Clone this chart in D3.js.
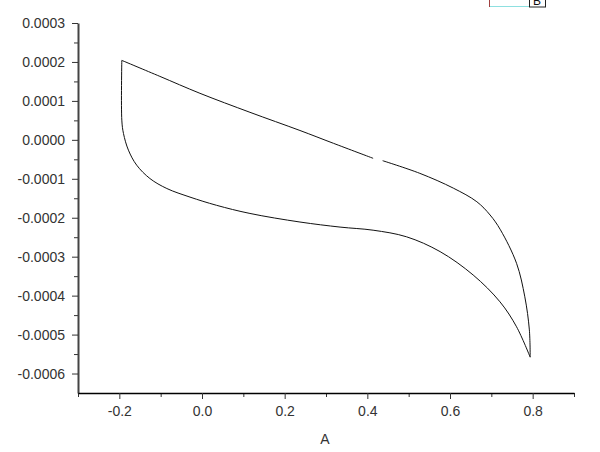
<!DOCTYPE html>
<html>
<head>
<meta charset="utf-8">
<script src="https://cdn.jsdelivr.net/npm/d3@7"></script>
<style>
  body { margin: 0; background: #fff; }
  svg { display: block; font-family: "Liberation Sans", Arial, sans-serif; }
</style>
</head>
<body>
<div id="chart"></div>
<script>
// loop: upper branch left->right, then lower branch right->left
// null marks a break: the little gap in the upper branch, and the sharp bottom-right corner
const potential = [-0.194, -0.102, -0.005, 0.116, 0.237, 0.318, 0.414, null, 0.437, 0.527, 0.608, 0.665, 0.697, 0.722, 0.761, 0.781, 0.792, 0.794, null,
  0.794, 0.761, 0.721, 0.656, 0.576, 0.495, 0.414, 0.334, 0.237, 0.116, 0.035, -0.029, -0.085, -0.126, -0.158, -0.178, -0.190, -0.194, -0.194];
const current = [0.000204, 0.000163, 0.0001195, 0.0000707, 0.000024, -0.0000089, -0.0000474, null, -0.0000535, -0.000086, -0.000124, -0.000159, -0.000193, -0.000231, -0.000317, -0.000403, -0.000488, -0.000558, null,
  -0.000558, -0.00048, -0.000416, -0.000347, -0.000287, -0.000249, -0.000232, -0.000224, -0.000211, -0.000189, -0.000168, -0.000147, -0.000125, -0.0000993, -0.000065, -0.0000265, 0.0000165, 0.0000506, 0.000204];

const xTicks = [-0.2, 0.0, 0.2, 0.4, 0.6, 0.8];
const xMinor = [-0.3, -0.1, 0.1, 0.3, 0.5, 0.7, 0.9];
const yTicks = [0.0003, 0.0002, 0.0001, 0.0, -0.0001, -0.0002, -0.0003, -0.0004, -0.0005, -0.0006];
const yMinor = [0.00025, 0.00015, 0.00005, -0.00005, -0.00015, -0.00025, -0.00035, -0.00045, -0.00055];

const width = 600, height = 452;

const svg = d3.select("#chart").append("svg")
  .attr("width", width)
  .attr("height", height);

const x = d3.scaleLinear().domain([-0.3, 0.9]).range([78, 574]);
const y = d3.scaleLinear().domain([-0.00065, 0.0003]).range([393, 23]);

const fmtX = d => d3.format(".1f")(d).replace("\u2212", "-");
const fmtY = d => d3.format(".4f")(d).replace("\u2212", "-");

// y axis
svg.append("g")
  .attr("transform", "translate(78,0)")
  .call(d3.axisLeft(y).tickValues(yMinor).tickSize(4).tickFormat(""))
  .call(g => g.select(".domain").remove());
const yAx = svg.append("g")
  .attr("transform", "translate(78,0)")
  .call(d3.axisLeft(y).tickValues(yTicks).tickSize(6).tickSizeOuter(0).tickPadding(7).tickFormat(fmtY));
yAx.select(".domain").attr("stroke", "#444").attr("stroke-width", 2);

// x axis
svg.append("g")
  .attr("transform", "translate(0,393)")
  .call(d3.axisBottom(x).tickValues(xMinor).tickSize(4).tickFormat(""))
  .call(g => g.select(".domain").remove());
const xAx = svg.append("g")
  .attr("transform", "translate(0,393)")
  .call(d3.axisBottom(x).tickValues(xTicks).tickSize(6).tickSizeOuter(0).tickPadding(7).tickFormat(fmtX));
xAx.select(".domain").attr("stroke", "#000").attr("stroke-width", 1.5);

svg.selectAll(".tick text")
  .attr("font-size", 14)
  .attr("font-family", "Liberation Sans, Arial, sans-serif")
  .attr("fill", "#333");
svg.selectAll(".tick line").attr("stroke", "#333");

svg.append("text")
  .attr("x", 325)
  .attr("y", 444)
  .attr("text-anchor", "middle")
  .attr("font-size", 14)
  .attr("fill", "#333")
  .text("A");

// the curve
const pts = potential.map((p, i) => ({ p: p, c: current[i] }));
const line = d3.line()
  .defined(d => d.p !== null && d.c !== null)
  .x(d => x(d.p))
  .y(d => y(d.c))
  .curve(d3.curveCatmullRom.alpha(0.5));

svg.append("path")
  .datum(pts)
  .attr("fill", "none")
  .attr("stroke", "#111")
  .attr("stroke-width", 1)
  .attr("d", line);

// legend, mostly cut off at the top edge
const lg = svg.append("g");
lg.append("line").attr("x1", 489.5).attr("x2", 489.5).attr("y1", 0).attr("y2", 7).attr("stroke", "#a04040").attr("stroke-width", 1);
lg.append("line").attr("x1", 490).attr("x2", 529).attr("y1", 6.5).attr("y2", 6.5).attr("stroke", "#8ee0e0").attr("stroke-width", 1);
lg.append("rect").attr("x", 529.5).attr("y", -10).attr("width", 16).attr("height", 17)
  .attr("fill", "#fff").attr("stroke", "#222").attr("stroke-width", 1);
lg.append("text").attr("x", 533).attr("y", 5).attr("font-size", 12).attr("fill", "#111").text("B");
</script>
</body>
</html>
